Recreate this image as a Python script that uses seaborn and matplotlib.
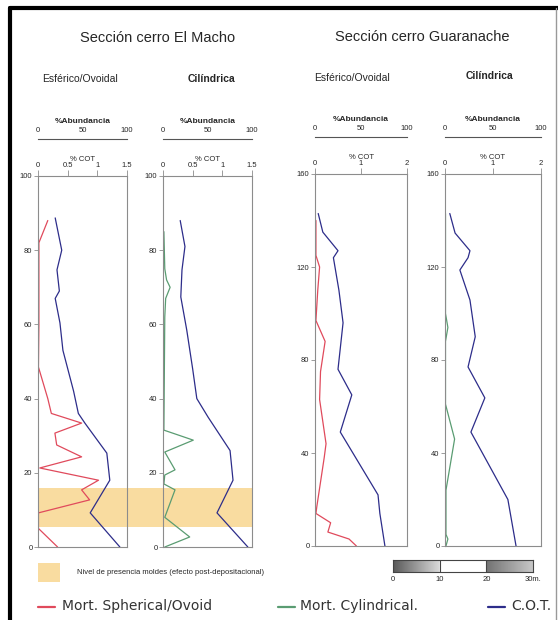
import numpy as np
import matplotlib.pyplot as plt
import matplotlib.transforms as mtransforms
from matplotlib.patches import Rectangle
from matplotlib.lines import Line2D
import seaborn as sns

# ---- data (depth in m, abundance in %, COT in %) ----
macho_sph_depth = [88, 82, 60, 48.5, 40, 36, 33.4, 30.7, 27.5, 24.3, 21.3, 18, 15.4, 12.7, 9.2, 5, 0]
macho_sph_abund = [11, 1, 1, 0.5, 11, 15, 49, 19, 21, 49, 2, 68, 49, 58, 0.5, 0.5, 22]
macho_sph_cot_depth = [88.7, 80, 74.7, 69, 67, 60.4, 53, 42, 36, 33.4, 25.3, 18, 9.2, 0]
macho_sph_cot = [0.29, 0.40, 0.32, 0.36, 0.29, 0.37, 0.42, 0.60, 0.68, 0.79, 1.16, 1.21, 0.88, 1.38]

macho_cyl_depth = [85, 75, 72, 70, 67, 62, 31.5, 28.8, 25.6, 20.8, 19.4, 17, 15.4, 8, 2.7, 0]
macho_cyl_abund = [1, 2, 4, 8, 3, 2, 1, 34, 2, 13.5, 2, 1, 13.5, 2, 30, 2]
macho_cyl_cot_depth = [88, 81, 74.7, 67.4, 58.5, 48, 40, 35, 26, 18, 9.2, 0]
macho_cyl_cot = [0.29, 0.37, 0.32, 0.30, 0.40, 0.50, 0.57, 0.76, 1.13, 1.18, 0.91, 1.43]

guar_sph_depth = [140, 125, 120, 110, 97, 88, 75, 63, 44, 38, 17, 14, 10, 6, 3, 0]
guar_sph_abund = [1, 1, 5, 3, 1, 11, 6, 5, 12, 10, 2, 1, 17, 14, 37, 45]
guar_sph_cot_depth = [143, 135, 127, 124, 110, 96, 76, 65, 49, 22, 14, 0]
guar_sph_cot = [0.07, 0.17, 0.50, 0.40, 0.52, 0.61, 0.50, 0.80, 0.55, 1.37, 1.41, 1.52]

guar_cyl_depth = [143, 100, 94, 88, 61, 46, 24, 5, 3, 0]
guar_cyl_abund = [0.5, 0.5, 3, 0.5, 0.5, 10, 1, 1, 3, 1]
guar_cyl_cot_depth = [143, 134.6, 127, 124, 118.7, 105.8, 90, 77, 63.7, 49, 20, 0]
guar_cyl_cot = [0.10, 0.21, 0.52, 0.48, 0.31, 0.52, 0.63, 0.48, 0.83, 0.54, 1.31, 1.48]

mold_band = [5.5, 16]          # depth range of mold level (El Macho)
abund_ticks = [0, 50, 100]
macho_yticks = [0, 20, 40, 60, 80, 100]
guar_yticks = [0, 40, 80, 120, 160]
macho_cot_ticks = [0, 0.5, 1, 1.5]
guar_cot_ticks = [0, 1, 2]
scale_ticks = [0, 10, 20, 30]
scale_labels = ['0', '10', '20', '30m.']

RED = '#e04a5c'
GREEN = '#5a9c72'
BLUE = '#2d2d8a'
FRAME = '#8c8c8c'

sns.set_theme(style='white')
plt.rcParams['font.family'] = ['Liberation Sans Narrow', 'Liberation Sans', 'DejaVu Sans']

W, H = 558, 620
fig = plt.figure(figsize=(W / 100, H / 100), dpi=100)


def fx(px):
    return px / W


def fy(py):
    return 1 - py / H


def make_panel(x0, x1, ytop, ybot, ymax, yticks, cot_max, cot_ticks):
    ax = fig.add_axes([fx(x0), fy(ybot), fx(x1 - x0), (ybot - ytop) / H])
    ax.set_facecolor('none')
    ax.set_xlim(0, 100)
    ax.set_ylim(0, ymax)
    ax.set_yticks(yticks)
    ax.tick_params(axis='y', left=True, length=3, width=0.6, color=FRAME, labelsize=5.5, pad=1)

    ax2 = ax.twiny()
    ax2.set_facecolor('none')
    ax2.set_xlim(0, cot_max)
    ax2.set_xticks(cot_ticks)
    ax2.set_xticklabels([f'{t:g}' for t in cot_ticks])
    ax2.tick_params(axis='x', top=True, bottom=False, length=4, width=0.6, color=FRAME,
                    labelsize=5.5, pad=1)
    for s in ['left', 'bottom', 'right']:
        ax2.spines[s].set_visible(False)
    ax2.spines['top'].set_color(FRAME)
    ax2.spines['top'].set_linewidth(0.8)

    # abundance scale sits on a detached top spine (twiny resets it to bottom)
    ax.xaxis.set_ticks_position('top')
    ax.xaxis.set_label_position('top')
    ax.spines['top'].set_position(('outward', 27))
    ax.set_xticks(abund_ticks)
    ax.tick_params(axis='x', top=True, bottom=False, labeltop=True, labelbottom=False,
                   length=0, labelsize=5.5, pad=3)
    for s in ax.spines.values():
        s.set_color(FRAME)
        s.set_linewidth(0.8)
    ax.spines['top'].set_color('#555555')
    return ax, ax2


def draw(ax, x, y, color):
    sns.lineplot(x=x, y=y, ax=ax, sort=False, estimator=None, orient='y',
                 color=color, lw=0.9, legend=False)


p1, p1c = make_panel(38, 127, 176, 547, 100, macho_yticks, 1.5, macho_cot_ticks)
p2, p2c = make_panel(163, 252, 176, 547, 100, macho_yticks, 1.5, macho_cot_ticks)
p3, p3c = make_panel(315, 407, 174, 546, 160, guar_yticks, 2, guar_cot_ticks)
p4, p4c = make_panel(445, 541, 174, 546, 160, guar_yticks, 2, guar_cot_ticks)

draw(p1, macho_sph_abund, macho_sph_depth, RED)
draw(p1c, macho_sph_cot, macho_sph_cot_depth, BLUE)
draw(p2, macho_cyl_abund, macho_cyl_depth, GREEN)
draw(p2c, macho_cyl_cot, macho_cyl_cot_depth, BLUE)
draw(p3, guar_sph_abund, guar_sph_depth, RED)
draw(p3c, guar_sph_cot, guar_sph_cot_depth, BLUE)
draw(p4, guar_cyl_abund, guar_cyl_depth, GREEN)
draw(p4c, guar_cyl_cot, guar_cyl_cot_depth, BLUE)

for a in [p1, p2, p3, p4]:
    a.set_xlabel('%Abundancia', fontsize=6, fontweight='bold', labelpad=3)
    a.set_ylabel('')
for a in [p1c, p2c, p3c, p4c]:
    a.set_xlabel('% COT', fontsize=5.5, labelpad=1)
    a.set_ylabel('')

# mold level band across both El Macho panels
trans = mtransforms.blended_transform_factory(fig.transFigure, p1.transData)
fig.patches.append(Rectangle((fx(38), mold_band[0]), fx(252 - 38), mold_band[1] - mold_band[0],
                             transform=trans, facecolor='#f9dca0', edgecolor='none', zorder=-1))

# titles
fig.text(fx(158), fy(38), 'Sección cerro El Macho', ha='center', va='center', fontsize=10.5)
fig.text(fx(422), fy(37), 'Sección cerro Guaranache', ha='center', va='center', fontsize=10.5)
fig.text(fx(80), fy(79), 'Esférico/Ovoidal', ha='center', va='center', fontsize=7.5)
fig.text(fx(212), fy(79), 'Cilíndrica', ha='center', va='center', fontsize=7.5, fontweight='bold')
fig.text(fx(352), fy(78), 'Esférico/Ovoidal', ha='center', va='center', fontsize=7.5)
fig.text(fx(490), fy(76), 'Cilíndrica', ha='center', va='center', fontsize=7.5, fontweight='bold')

# mold legend
fig.patches.append(Rectangle((fx(38), fy(582)), fx(22), 19 / H, transform=fig.transFigure,
                             facecolor='#f9dca0', edgecolor='none'))
fig.text(fx(77), fy(573), 'Nivel de presencia moldes (efecto post-depositacional)',
         ha='left', va='center', fontsize=5.5)

# scale bar
sb = fig.add_axes([fx(393), fy(572), fx(140), 12 / H])
seg = np.concatenate([np.linspace(0.35, 0.85, 100), np.ones(100), np.linspace(0.45, 0.78, 100)])
sb.imshow(seg[np.newaxis, :], cmap='gray', vmin=0, vmax=1, aspect='auto',
          extent=[scale_ticks[0], scale_ticks[-1], 0, 1])
for t in scale_ticks[1:-1]:
    sb.axvline(t, color='#444444', lw=0.8)
sb.set_yticks([])
sb.set_xticks(scale_ticks)
sb.set_xticklabels(scale_labels)
sb.tick_params(axis='x', bottom=True, length=0, labelsize=5.5, pad=3)
for s in sb.spines.values():
    s.set_color('#444444')
    s.set_linewidth(0.8)

# bottom legend
leg_items = [(38, 62, RED, 'Mort. Spherical/Ovoid'),
             (278, 300, GREEN, 'Mort. Cylindrical.'),
             (488, 511, BLUE, 'C.O.T.')]
for x0, xt, c, lab in leg_items:
    fig.add_artist(Line2D([fx(x0), fx(x0 + 17)], [fy(607)] * 2, color=c, lw=1.6))
    fig.text(fx(xt), fy(606), lab, ha='left', va='center', fontsize=10, family='DejaVu Sans',
             color='#333333')

# outer frame
fig.add_artist(Line2D([fx(10), 1], [fy(8)] * 2, color='black', lw=3))
fig.add_artist(Line2D([fx(10)] * 2, [fy(8), 0], color='black', lw=3))
fig.add_artist(Line2D([fx(556)] * 2, [fy(8), 0], color='#999999', lw=1))

fig.savefig('out.png', dpi=100)
